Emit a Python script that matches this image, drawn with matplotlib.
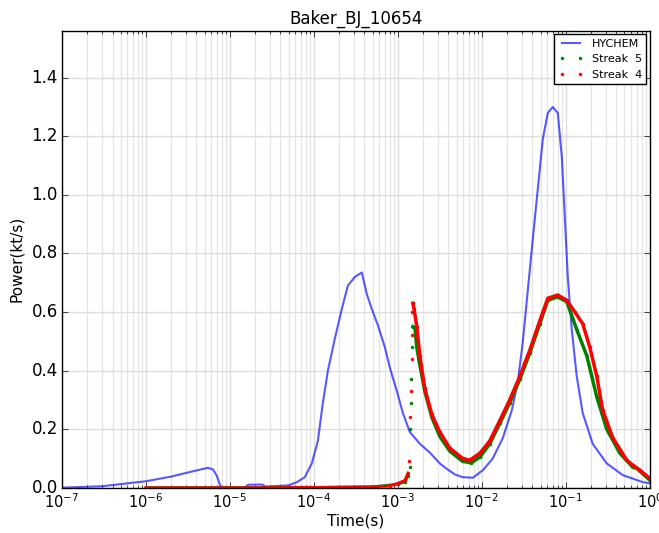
import numpy as np
import matplotlib
matplotlib.use('Agg')
import matplotlib.pyplot as plt

# HYCHEM model curve
hychem_t = [1.0e-7, 3.0e-7, 1.0e-6, 2.0e-6, 3.5e-6, 5.5e-6, 6.3e-6, 7.0e-6, 7.5e-6, 7.9e-6,
            1.5e-5, 1.65e-5, 2.4e-5, 2.7e-5, 5.0e-5, 6.28e-5, 7.8e-5, 9.46e-5,
            1.116e-4, 1.28e-4, 1.47e-4, 1.78e-4, 2.15e-4, 2.54e-4, 3.08e-4, 3.72e-4,
            4.28e-4, 4.9e-4, 5.78e-4, 7.0e-4, 8.03e-4, 9.73e-4, 1.148e-3, 1.39e-3,
            1.83e-3, 2.4e-3, 3.16e-3, 3.8e-3, 4.8e-3, 5.9e-3, 7.82e-3, 1.03e-2,
            1.35e-2, 1.78e-2, 2.28e-2, 2.68e-2, 3.08e-2, 3.53e-2, 4.05e-2, 4.64e-2,
            5.32e-2, 6.11e-2, 7.0e-2, 8.03e-2, 8.96e-2, 9.73e-2, 0.1056, 0.1178,
            0.135, 0.159, 0.209, 0.307, 0.477, 0.826, 1.0]
hychem_p = [0.0, 0.005, 0.022, 0.038, 0.055, 0.068, 0.062, 0.04, 0.015, 0.0,
            0.0, 0.01, 0.011, 0.004, 0.008, 0.019, 0.036, 0.083,
            0.16, 0.29, 0.40, 0.51, 0.61, 0.69, 0.72, 0.735,
            0.66, 0.61, 0.555, 0.48, 0.41, 0.33, 0.255, 0.19,
            0.15, 0.12, 0.083, 0.065, 0.045, 0.036, 0.034, 0.06,
            0.10, 0.17, 0.265, 0.36, 0.50, 0.675, 0.85, 1.02,
            1.19, 1.28, 1.30, 1.28, 1.13, 0.925, 0.72, 0.54,
            0.38, 0.255, 0.15, 0.083, 0.043, 0.019, 0.015]

# Streak 5 (green)
s5_t = [1.0e-6, 1.0e-5, 1.0e-4, 5.0e-4, 1.0e-3, 1.21e-3, 1.32e-3, 1.38e-3,
        1.40e-3, 1.43e-3, 1.45e-3, 1.47e-3, 1.51e-3, 1.6e-3, 1.68e-3, 1.8e-3,
        2.09e-3, 2.54e-3, 3.16e-3, 4.16e-3, 5.9e-3, 7.5e-3, 9.5e-3, 1.245e-2,
        1.64e-2, 2.15e-2, 2.83e-2, 3.73e-2, 4.9e-2, 6.1e-2, 8.0e-2, 0.1028,
        0.135, 0.178, 0.234, 0.307, 0.44, 0.628, 0.7, 1.0]
s5_p = [0.0, 0.0, 0.001, 0.003, 0.012, 0.02, 0.04, 0.07,
        0.20, 0.29, 0.37, 0.48, 0.55, 0.545, 0.48, 0.43,
        0.33, 0.24, 0.175, 0.125, 0.09, 0.085, 0.105, 0.15,
        0.22, 0.29, 0.37, 0.46, 0.56, 0.64, 0.652, 0.635,
        0.54, 0.45, 0.31, 0.20, 0.118, 0.07, 0.066, 0.026]

# Streak 4 (red)
s4_t = [1.0e-6, 1.0e-5, 1.0e-4, 5.0e-4, 8.0e-4, 1.0e-3, 1.21e-3, 1.32e-3,
        1.35e-3, 1.39e-3, 1.43e-3, 1.46e-3, 1.48e-3, 1.49e-3, 1.51e-3, 1.56e-3,
        1.68e-3, 1.83e-3, 2.09e-3, 2.54e-3, 3.16e-3, 4.16e-3, 5.9e-3, 7.2e-3,
        9.5e-3, 1.245e-2, 1.64e-2, 2.15e-2, 2.83e-2, 3.73e-2, 4.9e-2, 6.1e-2,
        8.0e-2, 0.1028, 0.128, 0.159, 0.193, 0.234, 0.275, 0.363,
        0.532, 0.628, 0.76, 1.0]
s4_p = [0.0, 0.0, 0.001, 0.003, 0.006, 0.015, 0.025, 0.05,
        0.09, 0.24, 0.33, 0.44, 0.52, 0.60, 0.63, 0.61,
        0.55, 0.45, 0.34, 0.25, 0.19, 0.135, 0.10, 0.094,
        0.118, 0.16, 0.23, 0.30, 0.38, 0.47, 0.57, 0.647,
        0.658, 0.64, 0.60, 0.56, 0.48, 0.38, 0.265, 0.17,
        0.094, 0.077, 0.06, 0.032]

plt.style.use('classic')
fig = plt.figure(figsize=(6.59, 5.33), dpi=100, facecolor='white')
ax = fig.add_axes([0.094, 0.085, 0.892, 0.857])

ax.plot(hychem_t, hychem_p, color='b', lw=1.5, alpha=0.65, label='HYCHEM')

for t, p, col, lab in [(s5_t, s5_p, 'g', 'Streak  5'), (s4_t, s4_p, 'r', 'Streak  4')]:
    t = np.array(t)
    p = np.array(p)
    pk = int(np.argmax(p[t < 5e-3]))
    # dense sampling looks like a solid line except on the steep rise
    ax.plot(t[t <= 1.32e-3], p[t <= 1.32e-3], color=col, lw=2)
    ax.plot(t[pk:], p[pk:], color=col, lw=2.5)
    ax.plot(t, p, color=col, ls='None', marker='.', ms=4, mec=col, label=lab)

ax.set_xscale('log')
ax.set_xlim(1e-7, 1)
ax.set_ylim(0, 1.56)
ax.set_yticks(np.arange(0, 1.41, 0.2))
ax.tick_params(axis='x', labelsize=10.5, pad=3)
ax.tick_params(axis='y', labelsize=12, pad=3)
ax.grid(True, which='major', color='#dddddd', linestyle='-', lw=1)
ax.grid(True, which='minor', axis='x', color='#e6e6e6', linestyle='-', lw=1)
ax.set_axisbelow(True)

ax.set_title('Baker_BJ_10654', fontsize=12)
ax.set_xlabel('Time(s)', fontsize=11, labelpad=2)
ax.set_ylabel('Power(kt/s)', fontsize=11)

ax.legend(loc='upper right', fontsize=8, borderaxespad=0.3, numpoints=2,
          handlelength=2.2)

fig.savefig('out.png', dpi=100, facecolor='white')
